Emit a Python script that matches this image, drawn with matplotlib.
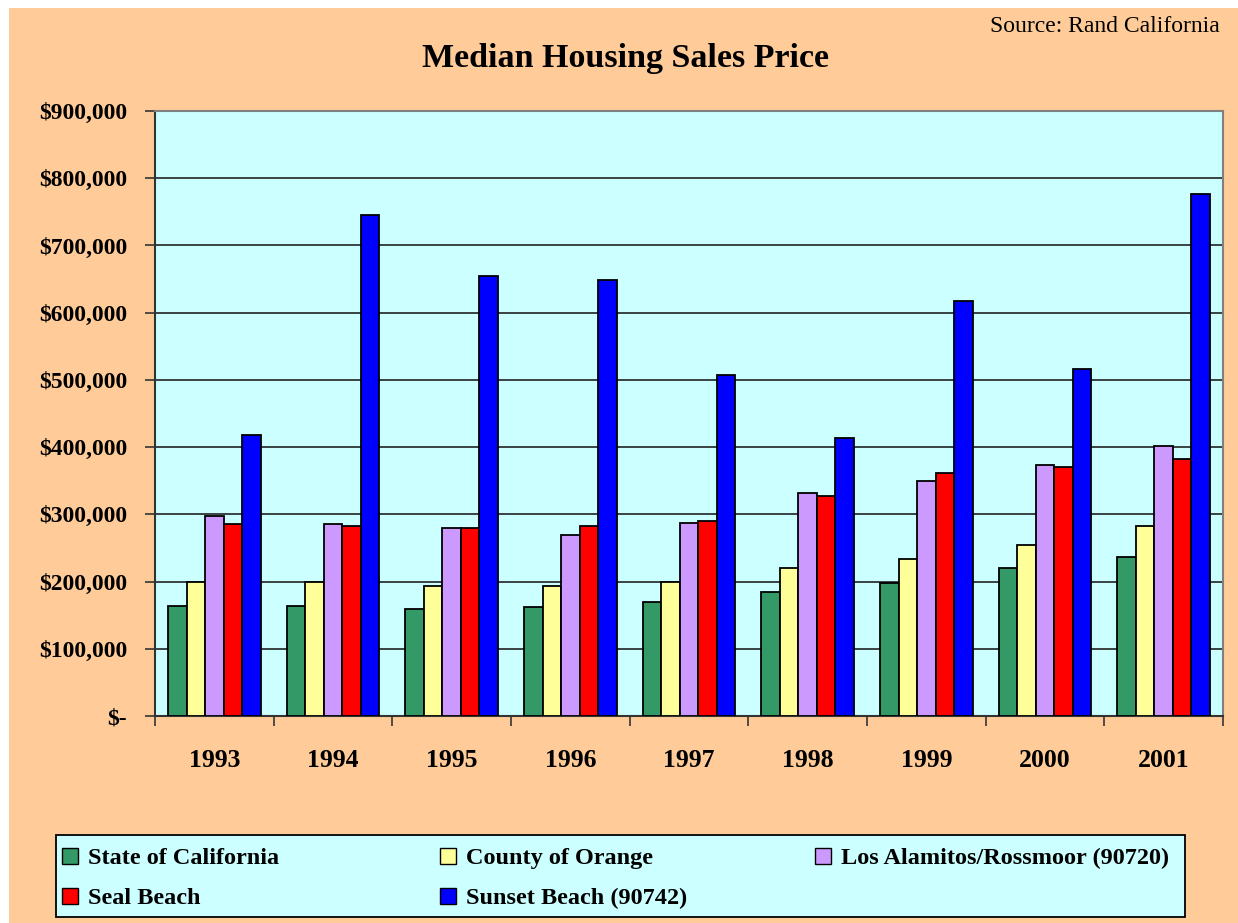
import numpy as np
import matplotlib
matplotlib.use("Agg")
import matplotlib.pyplot as plt
from matplotlib.patches import Rectangle
from matplotlib.ticker import FuncFormatter

# data (values in $)
years = ["1993", "1994", "1995", "1996", "1997", "1998", "1999", "2000", "2001"]
state_ca = [164000, 164000, 159000, 162000, 170000, 185000, 198000, 220000, 236000]
county_orange = [200000, 200000, 193000, 193000, 200000, 220000, 233000, 254000, 283000]
los_alamitos = [298000, 285000, 280000, 269000, 287000, 331000, 349000, 374000, 402000]
seal_beach = [285000, 282000, 280000, 282000, 290000, 328000, 361000, 371000, 382000]
sunset_beach = [418000, 746000, 654000, 648000, 508000, 413000, 618000, 516000, 777000]

series_names = ["State of California", "County of Orange", "Los Alamitos/Rossmoor (90720)",
                "Seal Beach", "Sunset Beach (90742)"]
series_vals = [state_ca, county_orange, los_alamitos, seal_beach, sunset_beach]
colors = ["#339966", "#FFFF99", "#CC99FF", "#FF0000", "#0000FF"]

W, H = 1238, 923
fig = plt.figure(figsize=(W / 100, H / 100), dpi=100)
fig.patch.set_facecolor("white")
serif = ["Liberation Serif", "DejaVu Serif"]

# peach background (there's a thin white margin top/left)
fig.patches.append(Rectangle((9 / W, 0), 1, 1 - 8 / H, transform=fig.transFigure,
                             facecolor="#FFCC99", edgecolor="none", zorder=-10))

ax = fig.add_axes([155 / W, 1 - 716 / H, (1223 - 155) / W, (716 - 111) / H])
ax.set_facecolor("#CCFFFF")

x = np.arange(len(years))
bw = 0.156
for i, (vals, c) in enumerate(zip(series_vals, colors)):
    ax.bar(x + (i - 2) * bw, vals, width=bw, color=c, edgecolor="black",
           linewidth=1.3, zorder=3)

ax.set_xlim(-0.5, len(years) - 0.5)
ax.set_ylim(0, 900000)
ax.set_yticks(np.arange(0, 900001, 100000))
ax.yaxis.set_major_formatter(FuncFormatter(lambda v, p: "$-" if v == 0 else "${:,.0f}".format(v)))
ax.grid(axis="y", color="#222222", linewidth=1.2, zorder=1)

ax.set_xticks(x)
ax.set_xticklabels(years)
ax.set_xticks(np.arange(-0.5, len(years)), minor=True)
ax.tick_params(axis="x", which="major", length=0, pad=24)
ax.tick_params(axis="x", which="minor", length=7, width=1.2, color="#333333", direction="out")
ax.tick_params(axis="y", length=7, width=1.2, color="#333333", direction="out", pad=13)
for lab in ax.get_yticklabels():
    lab.set_family(serif)
    lab.set_fontweight("bold")
    lab.set_fontsize(17)
for lab in ax.get_xticklabels():
    lab.set_family(serif)
    lab.set_fontweight("bold")
    lab.set_fontsize(18.5)

for s in ["top", "right"]:
    ax.spines[s].set_color("#808080")
    ax.spines[s].set_linewidth(1.5)
for s in ["left", "bottom"]:
    ax.spines[s].set_color("#333333")
    ax.spines[s].set_linewidth(1.5)

fig.text(625 / W, 1 - 59 / H, "Median Housing Sales Price", ha="center", va="center",
         family=serif, fontweight="bold", fontsize=24.5)
fig.text(1220 / W, 1 - 27 / H, "Source: Rand California", ha="right", va="center",
         family=serif, fontsize=17)

# legend box laid out like the Excel one (3 columns, row-major)
fig.patches.append(Rectangle((56 / W, 1 - 917 / H), (1185 - 56) / W, (917 - 835) / H,
                             transform=fig.transFigure, facecolor="#CCFFFF",
                             edgecolor="black", linewidth=1.3, zorder=1))
col_x = [62, 440, 815]
row_y = [856, 896]
for k, (name, c) in enumerate(zip(series_names, colors)):
    r, cidx = divmod(k, 3)
    px, py = col_x[cidx], row_y[r]
    fig.patches.append(Rectangle((px / W, 1 - (py + 8) / H), 16 / W, 16 / H,
                                 transform=fig.transFigure, facecolor=c,
                                 edgecolor="black", linewidth=1.0, zorder=2))
    fig.text((px + 26) / W, 1 - (py + 8) / H, name, ha="left", va="baseline",
             family=serif, fontweight="bold", fontsize=17.5, zorder=3)

fig.savefig("out.png", dpi=100, facecolor=fig.get_facecolor())
